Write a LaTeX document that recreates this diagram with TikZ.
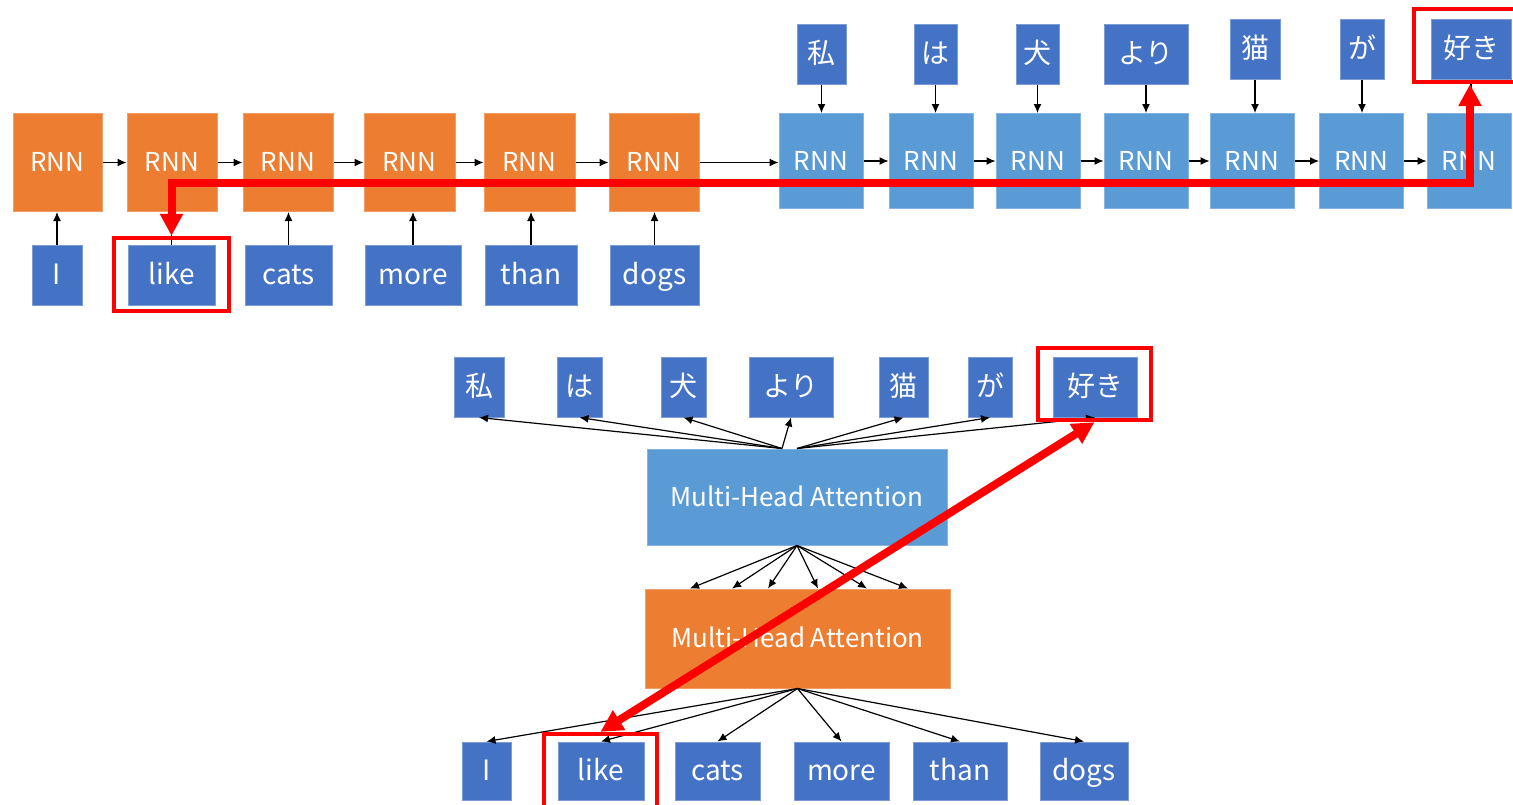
\documentclass[tikz,border=0pt]{standalone}
\usepackage{fontspec}
\newfontfamily\jpfont{Noto Sans CJK JP}
\usetikzlibrary{arrows.meta}

\definecolor{rnnorange}{HTML}{ED7D31}
\definecolor{rnnblue}{HTML}{5B9BD5}
\definecolor{wordblue}{HTML}{4472C4}
\definecolor{hired}{HTML}{FF0000}

\tikzset{
  unit/.style={inner sep=0pt, text=white, line width=0.5pt,
    text height=0.95em, text depth=0.02em,
    font=\jpfont\fontsize{13}{15}\selectfont},
  encbox/.style={unit, fill=rnnorange, draw=rnnorange!75!white},
  decbox/.style={unit, fill=rnnblue, draw=rnnblue!75!white},
  wordbox/.style={unit, fill=wordblue, draw=wordblue!70!white,
    font=\jpfont\fontsize{14}{16}\selectfont},
  hilite/.style={draw=hired, line width=2.2pt, inner sep=0pt},
  conn/.style={-{Latex[length=4.5pt,width=4pt]}, line width=0.6pt},
  focus/.style={hired, line width=4pt,
    {Triangle[length=11pt,width=11pt]}-{Triangle[length=11pt,width=11pt]}},
}

\begin{document}
\begin{tikzpicture}[x=0.5pt, y=-0.5pt]
    \useasboundingbox (0,0) rectangle (1513,804);

    % Encoder RNN chain and its English inputs
    \foreach \i/\x/\w in {1/57.5/89, 2/172/90, 3/288/90, 4/409.5/91, 5/529.5/91, 6/654/90}
        \node[encbox, minimum width=\w*0.5pt, minimum height=49pt] (enc\i) at (\x,162.5) {RNN};
    \foreach \i/\x/\w/\word in {1/57/50/I, 2/171.5/87/like, 3/288.5/87/cats, 4/413/96/more, 5/531/92/than, 6/654.5/89/dogs}
        \node[wordbox, minimum width=\w*0.5pt, minimum height=30pt] (in\i) at (\x,275) {\word};

    % Decoder RNN chain and its Japanese outputs
    \foreach \i/\x in {1/821, 2/931, 3/1038, 4/1146, 5/1252, 6/1361.5, 7/1469}
        \node[decbox, minimum width=42pt, minimum height=47.5pt] (dec\i) at (\x,161) {RNN};
    \foreach \i/\x/\y/\w/\word in {1/821.5/54/49/私, 2/935.5/54/43/は, 3/1037.5/54/43/犬, 4/1146/54/84/より, 5/1255/49.5/50/猫, 6/1362/49.5/44/が, 7/1471/49.5/80/好き}
        \node[wordbox, minimum width=\w*0.5pt, minimum height=30pt] (out\i) at (\x,\y) {\word};

    \foreach \i in {1,...,6}
        \draw[conn] (in\i) -- (in\i |- enc\i.south);
    \foreach \i [count=\j from 2] in {1,...,5}
        \draw[conn] (enc\i) -- (enc\j);
    \draw[conn] (enc6) -- (enc6 -| dec1.west);
    \foreach \i [count=\j from 2] in {1,...,6}
        \draw[conn] (dec\i) -- (dec\j);
    \foreach \i in {1,...,7}
        \draw[conn] (out\i) -- (out\i |- dec\i.north);

    % Attention: target words, two attention blocks, source words
    \foreach \i/\x/\w/\word in {1/479/50/私, 2/579.5/45/は, 3/683.5/45/犬, 4/791/84/より, 5/903.5/49/猫, 6/990/44/が, 7/1095/84/好き}
        \node[wordbox, minimum width=\w*0.5pt, minimum height=30pt] (tgt\i) at (\x,387) {\word};
    \node[decbox, minimum width=150pt, minimum height=48pt] (mhaD) at (797,497) {Multi-Head Attention};
    \node[encbox, minimum width=152.5pt, minimum height=49.5pt] (mhaE) at (797.5,638.5) {Multi-Head Attention};
    \foreach \i/\x/\w/\word in {1/486.5/49/I, 2/601/86/like, 3/717.5/85/cats, 4/841.5/95/more, 5/960/94/than, 6/1084/88/dogs}
        \node[wordbox, minimum width=\w*0.5pt, minimum height=29pt] (src\i) at (\x,771) {\word};

    \foreach \i in {1,...,4}
        \draw[conn] ([xshift=-7.5pt]mhaD.north) -- (tgt\i.south);
    \foreach \i in {5,6,7}
        \draw[conn] (mhaD.north) -- (tgt\i.south);
    \foreach \s in {-53.75,-32.75,-14.75,10.25,34.75,55.25}
        \draw[conn] (mhaD.south) -- ([xshift=\s pt]mhaE.north);
    \foreach \i in {1,...,6}
        \draw[conn] (mhaE.south) -- (src\i.north);

    % Red highlights: like <-> 好き
    \node[hilite, minimum width=57.5pt, minimum height=36.5pt] (frA) at (171.5,274.5) {};
    \node[hilite, minimum width=56pt, minimum height=36.5pt] (frB) at (1470,45.5) {};
    \coordinate (lane) at (0,183);
    \draw[focus] (frA.north) -- (frA.north |- lane) -- (frB.south |- lane) -- (frB.south);

    \node[hilite, minimum width=56.5pt, minimum height=36pt] (frC) at (1094.5,384) {};
    \node[hilite, minimum width=56.5pt, minimum height=37pt] (frD) at (600.5,771) {};
    \draw[focus] (frD.north) -- (frC.south);
\end{tikzpicture}
\end{document}
